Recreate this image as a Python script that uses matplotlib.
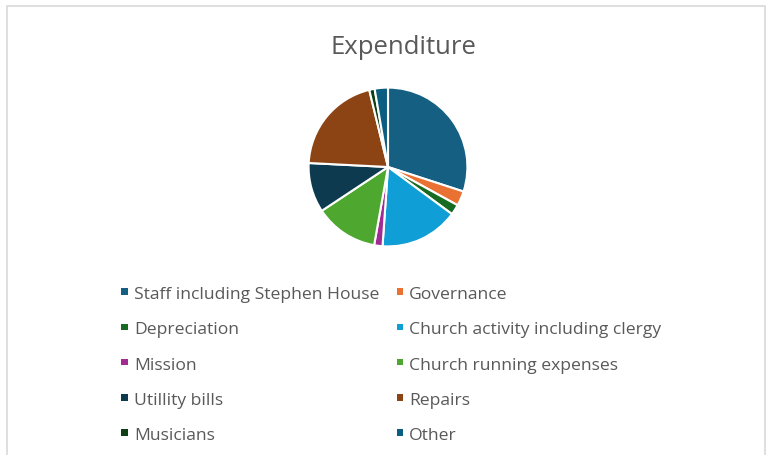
import matplotlib.pyplot as plt
from matplotlib.patches import Rectangle

# slice data (percent of total)
categories = ['Staff including Stephen House', 'Governance', 'Depreciation',
              'Church activity including clergy', 'Mission', 'Church running expenses',
              'Utillity bills', 'Repairs', 'Musicians', 'Other']
values = [30.0, 3.0, 2.1, 16.0, 1.7, 12.9, 10.1, 20.4, 1.1, 2.7]
colors = ['#156082', '#E97132', '#196B24', '#0F9ED5', '#A02B93', '#4EA72E',
          '#0D3A4E', '#8C4414', '#0F4015', '#0A5F80']

W, H = 768, 456
fig = plt.figure(figsize=(W / 100, H / 100), dpi=100)
fig.patch.set_facecolor('white')

# chart area border
fig.patches.append(Rectangle((7 / W, -0.1), (765 - 7) / W, 1.1 - 7 / H,
                             transform=fig.transFigure, fill=False,
                             edgecolor='#D9D9D9', linewidth=1.2))

fig.text(403.5 / W, 1 - 54 / H, 'Expenditure', ha='center', va='baseline',
         fontsize=18.5, color='#595959', family='Open Sans')

# pie
cx, cy, r = 388, 168, 81
ax = fig.add_axes([(cx - r) / W, (H - cy - r) / H, 2 * r / W, 2 * r / H])
ax.pie(values, colors=colors, startangle=90, counterclock=False,
       wedgeprops=dict(edgecolor='white', linewidth=1.5))
ax.set_xlim(-1.02, 1.02)
ax.set_ylim(-1.02, 1.02)
ax.set_aspect('equal')
ax.axis('off')

# legend in two columns, row by row
col_marker = [121, 396.5]
col_text = [134, 409]
row_base = [299, 334.3, 369.6, 404.9, 440.2]
for i, (lab, c) in enumerate(zip(categories, colors)):
    col, row = i % 2, i // 2
    yb = row_base[row]
    ym = yb - 6.5
    fig.patches.append(Rectangle((col_marker[col] / W, 1 - (ym + 3.3) / H), 6.6 / W, 6.6 / H,
                                 transform=fig.transFigure, facecolor=c, edgecolor='none'))
    fig.text(col_text[col] / W, 1 - yb / H, lab, ha='left', va='baseline',
             fontsize=12.6, color='#595959', family='Open Sans')

fig.savefig('out.png', dpi=100)
